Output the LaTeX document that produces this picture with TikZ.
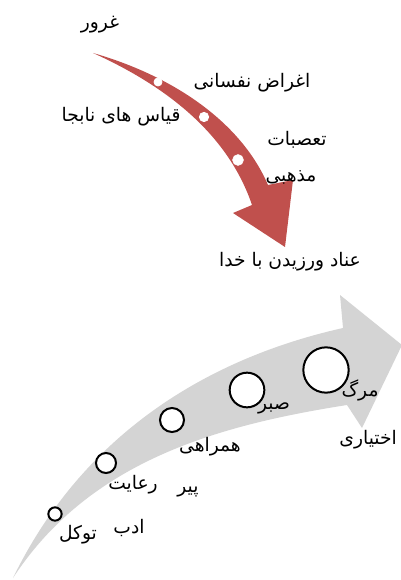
\documentclass[tikz,border=0pt]{standalone}
\usepackage{fontspec}
\newfontfamily\arabicfont[Script=Arabic]{DejaVu Sans}
\TeXXeTstate=1
\definecolor{arrowred}{HTML}{C0504D}
\definecolor{arrowgray}{HTML}{D4D4D4}
\newcommand{\fa}[1]{{\arabicfont\beginR #1\endR}}

\begin{document}
\begin{tikzpicture}[x=0.75pt,y=-0.75pt,
  lbl/.style={inner sep=0pt,font=\fontsize{14}{16}\selectfont},
  reddot/.style={circle,fill=white,draw=white,line width=0.6pt,inner sep=0pt},
  ring/.style={circle,fill=white,draw=black,line width=1.5pt,inner sep=0pt}]
\useasboundingbox (0,0) rectangle (400,580);
% red arrow
\fill[color=arrowred] (93,53) .. controls (170,75) and (240,120) .. (268,185)
  -- (293,180) -- (285,247) -- (233,213) -- (252,205)
  .. controls (230,140) and (175,90) .. (93,53) -- cycle;
\node[reddot,minimum size=6pt] (r1) at (158,82) {};
\node[reddot,minimum size=7pt] (r2) at (204,117) {};
\node[reddot,minimum size=8pt] (r3) at (238,160) {};
% gray arrow
\fill[color=arrowgray] (13,578) .. controls (80,440) and (200,360) .. (343,328)
  -- (340,295) -- (402,345) -- (362,428) -- (347,405)
  .. controls (220,425) and (90,460) .. (13,578) -- cycle;
\node[ring,minimum size=10pt] (c1) at (55,514) {};
\node[ring,minimum size=15pt] (c2) at (106,463) {};
\node[ring,minimum size=18pt] (c3) at (172,420) {};
\node[ring,minimum size=26pt] (c4) at (247,390) {};
\node[ring,minimum size=34pt] (c5) at (326,370) {};
% labels
\node[lbl] (gurur) at (100,25) {\fa{غرور}};
\node[lbl] (aghraz) at (252,83) {\fa{اغراض نفسانی}};
\node[lbl] (qiyas) at (121,117) {\fa{قیاس های نابجا}};
\node[lbl] (taassob) at (297,140) {\fa{تعصبات}};
\node[lbl] (mazhabi) at (291,177) {\fa{مذهبی}};
\node[lbl] (enad) at (290,262) {\fa{عناد ورزیدن با خدا}};
\node[lbl] (marg) at (360,390) {\fa{مرگ}};
\node[lbl,anchor=east] (ekhtiari) at (397,440) {\fa{اختیاری}};
\node[lbl] (sabr) at (274,408) {\fa{صبر}};
\node[lbl] (hamrahi) at (210,447) {\fa{همراهی}};
\node[lbl] (pir) at (188,492) {\fa{پیر}};
\node[lbl] (reayat) at (133,485) {\fa{رعایت}};
\node[lbl] (adab) at (129,528) {\fa{ادب}};
\node[lbl] (tavakkol) at (78,535) {\fa{توکل}};
\end{tikzpicture}
\end{document}
